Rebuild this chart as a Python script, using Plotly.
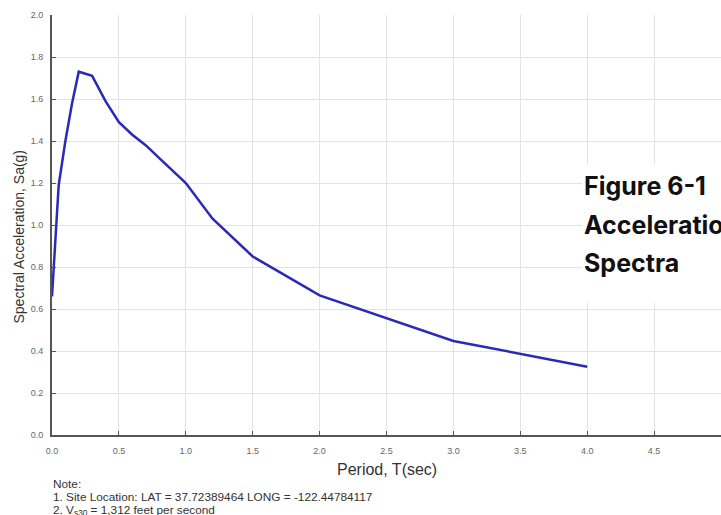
import plotly.graph_objects as go

# Data
period = [0.0, 0.05, 0.1, 0.15, 0.2, 0.3, 0.4, 0.5, 0.6, 0.7, 0.8, 0.9, 1.0, 1.2, 1.5, 2.0, 3.0, 4.0]
sa = [0.66, 1.19, 1.40, 1.58, 1.73, 1.71, 1.59, 1.49, 1.43, 1.38, 1.32, 1.26, 1.20, 1.03, 0.85, 0.665, 0.448, 0.325]

x_ticks = [0.0, 0.5, 1.0, 1.5, 2.0, 2.5, 3.0, 3.5, 4.0, 4.5, 5.0]
x_ticklabels = ["0.0", "0.5", "1.0", "1.5", "2.0", "2.5", "3.0", "3.5", "4.0", "4.5", "5.0"]
y_ticks = [0.0, 0.2, 0.4, 0.6, 0.8, 1.0, 1.2, 1.4, 1.6, 1.8, 2.0]
y_ticklabels = ["0.0", "0.2", "0.4", "0.6", "0.8", "1.0", "1.2", "1.4", "1.6", "1.8", "2.0"]

x_title = "Period, T(sec)"
y_title = "Spectral Acceleration, Sa(g)"
note_lines = [
    "Note:",
    "1. Site Location: LAT = 37.72389464 LONG = -122.44784117",
    "2. V<sub>s30</sub> = 1,312 feet per second",
]
figure_lines = ["Figure 6-1", "Acceleration", "Spectra"]

W, H = 721, 515
ML, MR, MT, MB = 52, 0, 15, 80
PW, PH = W - ML - MR, H - MT - MB
PLOT_LEFT, PLOT_BOTTOM = ML, H - MB


def px_x(p):
    return (p - PLOT_LEFT) / PW


def px_y(p):
    return (PLOT_BOTTOM - p) / PH


fig = go.Figure()
fig.add_trace(go.Scatter(
    x=period, y=sa, mode="lines",
    line=dict(color="#2a2ab4", width=2.5),
    showlegend=False, hoverinfo="x+y",
))

axis_common = dict(
    showgrid=True, gridcolor="#e3e3e3", gridwidth=1,
    showline=True, linecolor="#555555", linewidth=2,
    ticks="inside", ticklen=4, tickcolor="#555555", tickwidth=1,
    tickfont=dict(family="Liberation Sans, Arial, sans-serif", size=9, color="#666666"),
    zeroline=False, automargin=False, fixedrange=True,
)

fig.update_layout(
    width=W, height=H,
    margin=dict(l=ML, r=MR, t=MT, b=MB, pad=0),
    paper_bgcolor="white", plot_bgcolor="white",
    xaxis=dict(range=[0, 5], tickmode="array", tickvals=x_ticks, ticktext=x_ticklabels,
               ticklabelstandoff=6, **axis_common),
    yaxis=dict(range=[0, 2], tickmode="array", tickvals=y_ticks, ticktext=y_ticklabels,
               ticklabelstandoff=5, **axis_common),
    font=dict(family="Liberation Sans, Arial, sans-serif"),
)

# white box behind the figure caption
fig.add_shape(type="rect", xref="paper", yref="paper",
              x0=px_x(582), x1=px_x(730), y0=px_y(303), y1=px_y(165),
              fillcolor="white", line=dict(width=0), layer="above")

# axis titles
fig.add_annotation(text=x_title, xref="paper", yref="paper", x=0.5, y=px_y(470),
                   xanchor="center", yanchor="middle", showarrow=False,
                   font=dict(size=16, color="#333333"))
fig.add_annotation(text=y_title, xref="paper", yref="paper", x=px_x(18.5), y=px_y(237),
                   xanchor="center", yanchor="middle", textangle=-90, showarrow=False,
                   font=dict(size=14, color="#333333"))

# notes
for line, yc in zip(note_lines, [484, 497, 510]):
    fig.add_annotation(text=line, xref="paper", yref="paper", x=px_x(51), y=px_y(yc),
                       xanchor="left", yanchor="middle", showarrow=False,
                       font=dict(size=11.8, color="#333333"))

# figure caption
for line, yc in zip(figure_lines, [186, 225, 263]):
    fig.add_annotation(text="<b>" + line + "</b>", xref="paper", yref="paper",
                       x=px_x(582), y=px_y(yc), xanchor="left", yanchor="middle",
                       showarrow=False,
                       font=dict(family="Inter, Roboto, sans-serif", size=25, color="#111111"))

fig.write_html(
    "out.html",
    config={"displayModeBar": False},
    post_script="document.body.style.margin='0px';document.body.style.overflow='hidden';",
)
